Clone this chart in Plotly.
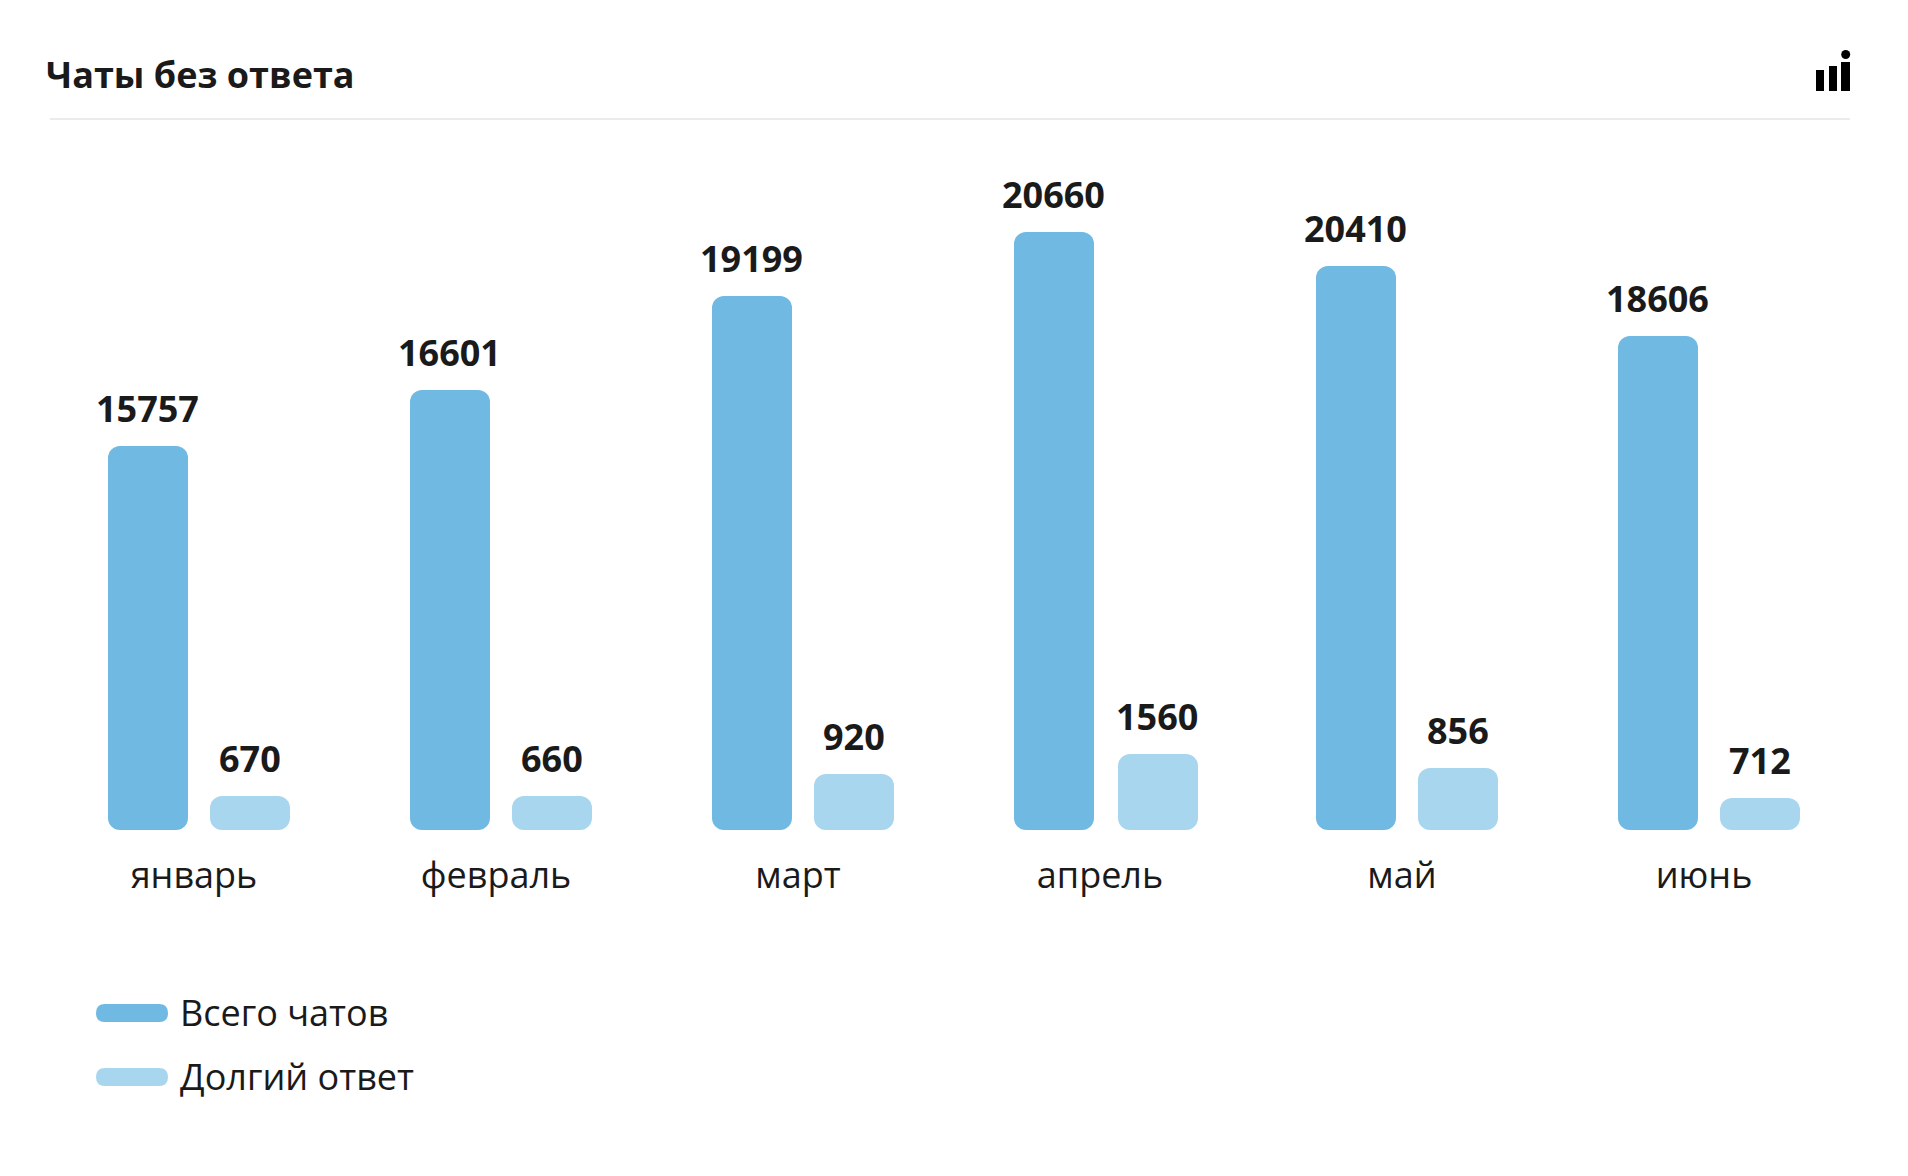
import plotly.graph_objects as go

W, H = 1908, 1176
FONT = "Open Sans"
TEXT = "#1a1a1a"
BLUE = "#6fb9e3"
LIGHT = "#a9d6ef"

months = ["январь", "февраль", "март", "апрель", "май", "июнь"]
series_names = ["Всего чатов", "Долгий ответ"]
total_labels = [15757, 16601, 19199, 20660, 20410, 18606]
long_labels = [670, 660, 920, 1560, 856, 712]
# Drawn bar heights (the source's bars are not proportional to their labels)
total_heights = [384, 440, 534, 598, 564, 494]
long_heights = [34, 34, 56, 76, 62, 32]

idx = list(range(len(months)))
UNIT = 302.0          # pixels per month
X0 = 194.0            # pixel centre of the first month
BASE_Y = 830          # pixel row of the baseline
BAR_W = 80 / UNIT
OFF_TOTAL = [(108 - X0) / UNIT] * len(idx)
OFF_LONG = [(210 - X0) / UNIT] * len(idx)
OFF_LONG[3] += 2 / UNIT   # April's small bar sits 2 px to the right in the source


def px(x):
    return x / W


def py(y):
    return 1 - y / H


fig = go.Figure()


def add_rounded(heights, offset, color, name):
    fig.add_trace(go.Bar(x=idx, y=heights, base=[0] * len(heights), width=BAR_W, offset=offset, name=name,
                         marker=dict(color=color, line=dict(width=0), cornerradius=12),
                         showlegend=False, hoverinfo="skip"))


add_rounded(total_heights, OFF_TOTAL, BLUE, series_names[0])
add_rounded(long_heights, OFF_LONG, LIGHT, series_names[1])

annotations = []
for i in idx:
    for labels, heights, off, dx in ((total_labels, total_heights, OFF_TOTAL, -1), (long_labels, long_heights, OFF_LONG, 0)):
        if labels is long_labels and i == 3:
            dx = -1
        annotations.append(dict(x=i + off[i] + BAR_W / 2, y=heights[i], xref="x", yref="y", text=f"<b>{labels[i]}</b>",
                                showarrow=False, xanchor="center", yanchor="bottom", yshift=12, xshift=dx,
                                font=dict(family=FONT, size=36, color=TEXT), borderpad=0))

legend_rows = [(1013, BLUE, series_names[0]), (1077, LIGHT, series_names[1])]
shapes = [
    dict(type="rect", xref="paper", yref="paper", x0=px(50), x1=px(1850), y0=py(118), y1=py(120),
         fillcolor="#ebebeb", line=dict(width=0)),
]
for y, col, name in legend_rows:
    r = 9
    path = (f"M {px(96 + r)} {py(y - r)} L {px(168 - r)} {py(y - r)} "
            f"Q {px(168)} {py(y - r)} {px(168)} {py(y)} Q {px(168)} {py(y + r)} {px(168 - r)} {py(y + r)} "
            f"L {px(96 + r)} {py(y + r)} Q {px(96)} {py(y + r)} {px(96)} {py(y)} Q {px(96)} {py(y - r)} {px(96 + r)} {py(y - r)} Z")
    shapes.append(dict(type="path", xref="paper", yref="paper", path=path, fillcolor=col, line=dict(width=0)))
    annotations.append(dict(x=px(178), y=py(y - 1), xref="paper", yref="paper", text=name, showarrow=False,
                            xanchor="left", yanchor="middle", font=dict(family=FONT, size=36, color=TEXT)))

# header icon
for x0, x1, top in ((1816, 1824, 70), (1829, 1837, 66), (1841, 1850, 62)):
    shapes.append(dict(type="rect", xref="paper", yref="paper", x0=px(x0), x1=px(x1), y0=py(top), y1=py(91),
                       fillcolor="#000000", line=dict(width=0)))
shapes.append(dict(type="circle", xref="paper", yref="paper", x0=px(1841.2), x1=px(1850.2), y0=py(50), y1=py(59),
                   fillcolor="#000000", line=dict(width=0)))

fig.update_layout(
    width=W, height=H, margin=dict(l=0, r=0, t=0, b=0, pad=0),
    paper_bgcolor="white", plot_bgcolor="white",
    barmode="overlay", showlegend=False,
    title=dict(text="<b>Чаты без ответа</b>", x=px(46), xanchor="left", y=py(75), yanchor="middle",
               xref="paper", yref="paper", font=dict(family=FONT, size=36, color=TEXT)),
    xaxis=dict(range=[-X0 / UNIT, (W - X0) / UNIT], domain=[0, 1], tickmode="array", tickvals=idx, ticktext=months,
               showgrid=False, zeroline=False, showline=False, ticks="", ticklabelstandoff=21,
               tickfont=dict(family=FONT, size=36, color=TEXT), automargin=False),
    yaxis=dict(range=[0, BASE_Y], domain=[py(BASE_Y), 1], visible=False, automargin=False),
    shapes=shapes, annotations=annotations,
)

fig.write_html("out.html", post_script="document.body.style.margin='0';", config={"displayModeBar": False})
